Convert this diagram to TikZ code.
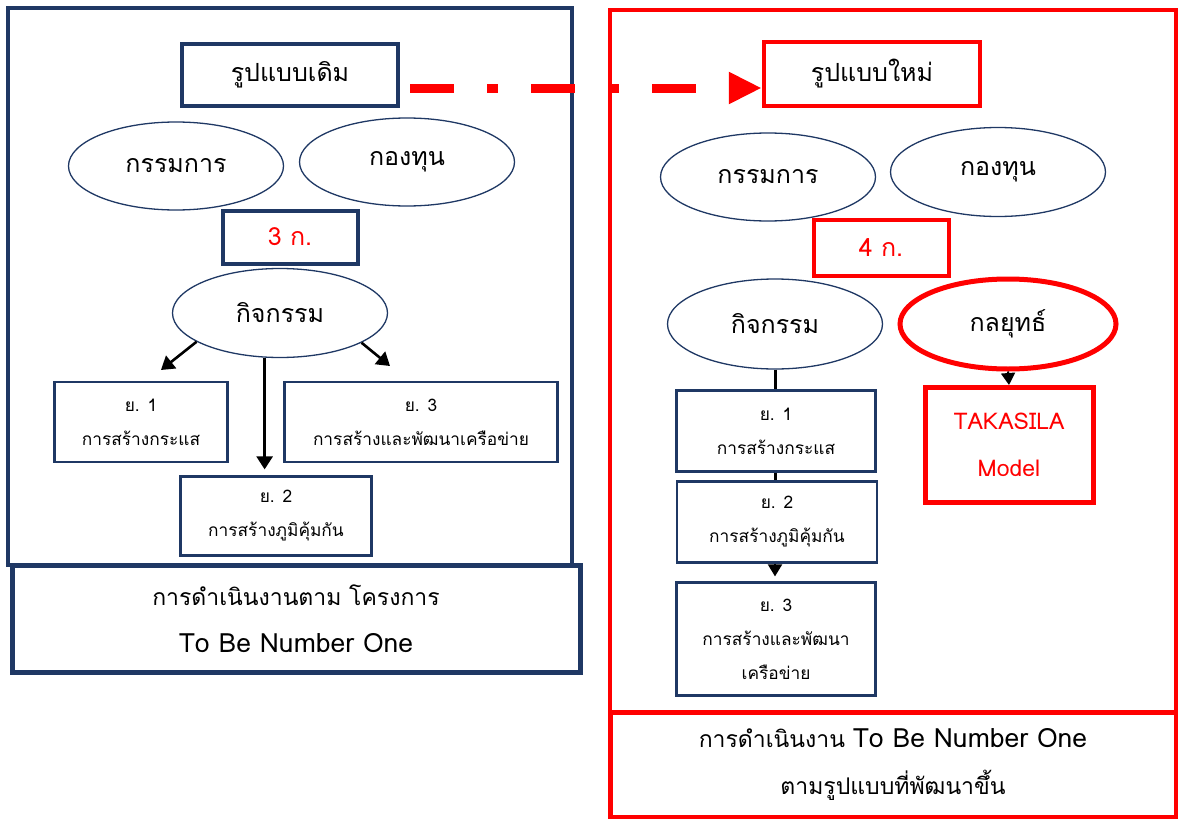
\documentclass[tikz,border=0pt]{standalone}
\usepackage{fontspec}
\setmainfont[Script=Thai]{Loma}
\usepackage{xcolor}
\usetikzlibrary{arrows.meta, positioning, shapes.geometric}

\definecolor{navy}{HTML}{1F3864}
\definecolor{brightred}{HTML}{FF0000}
\newcommand\bigthai{\fontsize{25}{29}\selectfont}
\newcommand\capthai{\fontsize{23}{47}\selectfont}
\newcommand\caplatin{\fontsize{26.5}{47}\selectfont}
\newcommand\smallthai{\fontsize{17.3}{34}\selectfont}

\begin{document}
\begin{tikzpicture}[
  x=1pt, y=-1pt,
  frame/.style={rectangle,draw,line width=4.5pt,inner sep=0pt},
  headbox/.style={rectangle,draw,line width=4.5pt,minimum width=216pt,minimum height=62pt,inner sep=0pt,font=\bigthai},
  oval/.style={ellipse,draw=navy,line width=1.3pt,minimum width=215pt,minimum height=88pt,inner sep=0pt,font=\bigthai},
  gbox/.style={rectangle,draw,line width=4pt,minimum width=135pt,minimum height=54pt,inner sep=0pt,text=brightred,font=\bigthai},
  planbox/.style={rectangle,draw=navy,line width=2.2pt,inner sep=0pt,align=center,font=\smallthai},
  capbox/.style={rectangle,draw,line width=5pt,inner sep=0pt,align=center,font=\capthai},
  link/.style={draw,line width=2.6pt,-{Triangle[length=13pt,width=16pt]}},
  dashlink/.style={draw=brightred,line width=9pt,dash pattern=on 44pt off 33pt on 11pt off 33pt,-{Triangle[length=33pt,width=30pt]}}
]
\useasboundingbox (0,0) rectangle (1178,819);

% old model
\node[frame,draw=navy,minimum width=564pt,minimum height=557pt] (oldframe) at (290,286.5) {};
\node[capbox,draw=navy,minimum width=568pt,minimum height=107pt] (oldcap) at (296,618.5) {การดำเนินงานตาม โครงการ\\{\caplatin To Be Number One}};
\node[headbox,draw=navy] (oldhead) at (290,75) {รูปแบบเดิม};
\node[oval] (boardL) at (176,166) {กรรมการ};
\node[oval] (fundL) at (407,162) {กองทุน};
\node[gbox,draw=navy,minimum height=53pt] (threeg) at (290,237) {3 ก.};
\node[oval,minimum height=89pt] (actL) at (280,313) {กิจกรรม};
\node[planbox,minimum width=173pt,minimum height=80pt] (yoneL) at (141,422) {ย. 1\\การสร้างกระแส};
\node[planbox,minimum width=273pt,minimum height=80pt] (ythreeL) at (421,422) {ย. 3\\การสร้างและพัฒนาเครือข่าย};
\node[planbox,minimum width=191pt,minimum height=79pt] (ytwoL) at (276,516) {ย. 2\\การสร้างภูมิคุ้มกัน};

\coordinate (toyone) at (161,370);
\coordinate (toythree) at (390,366);
\draw[link] (actL.199) -- (toyone);
\draw[link] (actL.340) -- (toythree);
\draw[link,shorten >=6pt] (actL.251) -- (actL.251 |- ytwoL.north);

% new model
\node[frame,draw=brightred,minimum width=566pt,minimum height=702pt] (newframe) at (893,361) {};
\node[capbox,draw=brightred,minimum width=566pt,minimum height=105pt] (newcap) at (893,764.5) {การดำเนินงาน {\caplatin To Be Number One}\\ตามรูปแบบที่พัฒนาขึ้น};
\node[headbox,draw=brightred,minimum height=64pt] (newhead) at (872,74) {รูปแบบใหม่};
\node[oval] (boardR) at (768,177) {กรรมการ};
\node[oval,minimum height=89pt] (fundR) at (998,172) {กองทุน};
\node[gbox,draw=brightred,minimum height=56pt] (fourg) at (881,248) {4 ก.};
\node[oval,minimum height=90pt] (actR) at (775,324) {กิจกรรม};
\node[oval,draw=brightred,line width=5pt,minimum width=216pt,minimum height=90pt] (strat) at (1008,324) {กลยุทธ์};
\node[rectangle,draw=brightred,line width=5pt,minimum width=168pt,minimum height=115pt,align=center,text=brightred,font=\capthai] (model) at (1009,445) {TAKASILA\\Model};
\node[planbox,minimum width=199pt,minimum height=81pt] (yoneR) at (776,431) {ย. 1\\การสร้างกระแส};
\node[planbox,minimum width=200pt,minimum height=81pt] (ytwoR) at (777,522) {ย. 2\\การสร้างภูมิคุ้มกัน};
\node[planbox,minimum width=199pt,minimum height=113pt] (ythreeR) at (776,639) {ย. 3\\การสร้างและพัฒนา\\เครือข่าย};

\draw[line width=3pt] (actR.south) -- (actR.south |- yoneR.north);
\draw[line width=3pt] (actR.south |- yoneR.south) -- (actR.south |- ytwoR.north);
\draw[line width=2pt,-{Triangle[length=12pt,width=14pt]},shorten >=5pt] (actR.south |- ytwoR.south) -- (actR.south |- ythreeR.north);
\draw[line width=2pt,-{Triangle[length=12pt,width=14pt]}] (strat.south) -- (model.north);

% old -> new
\draw[dashlink,shorten <=10pt] ([yshift=-13pt]oldhead.east) -- ([yshift=-13pt]oldhead.east -| newhead.west);

\end{tikzpicture}
\end{document}
